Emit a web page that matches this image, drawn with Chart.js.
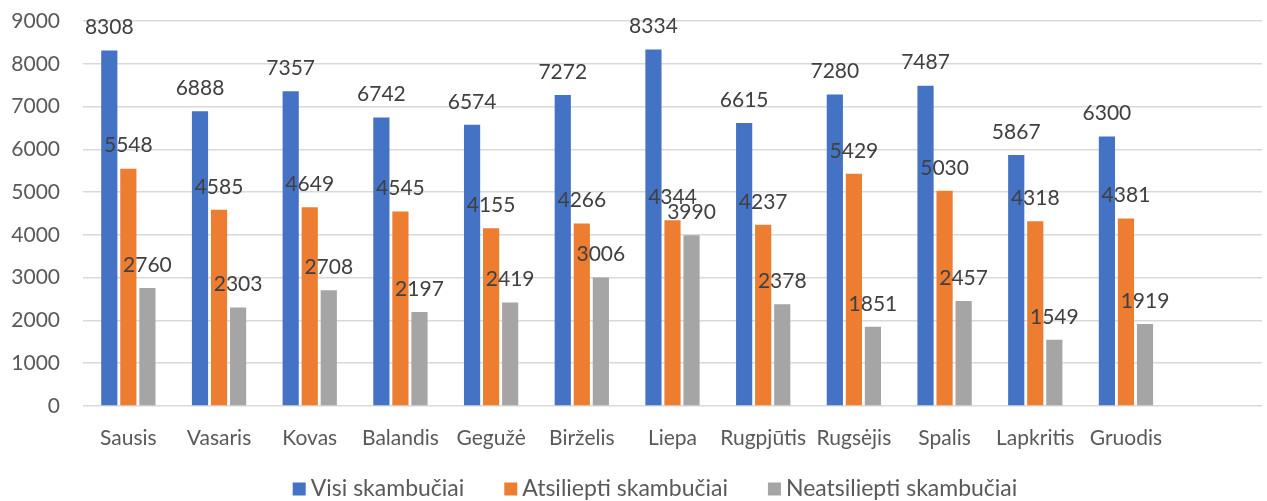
<!DOCTYPE html>
<html>
<head>
<meta charset="utf-8">
<script src="https://cdn.jsdelivr.net/npm/chart.js@4"></script>
<style>
  html, body { margin: 0; padding: 0; background: #fff; }
  canvas { display: block; }
</style>
</head>
<body>
<canvas id="callsChart" width="1267" height="501"></canvas>
<script>
// months (the last empty slot is there in the original chart too)
const months = ['Sausis', 'Vasaris', 'Kovas', 'Balandis', 'Gegužė', 'Birželis', 'Liepa',
   'Rugpjūtis', 'Rugsėjis', 'Spalis', 'Lapkritis', 'Gruodis', ''];

const allCalls = [8308, 6888, 7357, 6742, 6574, 7272, 8334, 6615, 7280, 7487, 5867, 6300];
const answered = [5548, 4585, 4649, 4545, 4155, 4266, 4344, 4237, 5429, 5030, 4318, 4381];
const missed = [2760, 2303, 2708, 2197, 2419, 3006, 3990, 2378, 1851, 2457, 1549, 1919];

const yTicks = [0, 1000, 2000, 3000, 4000, 5000, 6000, 7000, 8000, 9000];

const fontName = 'Lato, "Open Sans", sans-serif';
const fontSize = 21;
const textColor = '#595959';

// value labels above each bar
const valueLabels = {
   id: 'valueLabels',
   afterDatasetsDraw(chart) {
      const ctx = chart.ctx;
      ctx.save();
      ctx.font = fontSize + 'px ' + fontName;
      ctx.fillStyle = '#404040';
      ctx.textAlign = 'center';
      ctx.textBaseline = 'middle';
      chart.data.datasets.forEach((ds, i) => {
         chart.getDatasetMeta(i).data.forEach((bar, j) => {
            if (ds.data[j] == null) return;
            ctx.fillText(ds.data[j], bar.x, bar.y - 23);
         });
      });
      ctx.restore();
   }
};

// legend drawn by hand so the spacing can match the original
const bottomLegend = {
   id: 'bottomLegend',
   afterDraw(chart) {
      const ctx = chart.ctx;
      const box = 13, gapText = 5, gapItem = 40;
      ctx.save();
      ctx.font = '23px ' + fontName;
      ctx.textBaseline = 'middle';
      ctx.textAlign = 'left';
      const items = chart.data.datasets.map(ds => ({
         text: ds.label,
         color: ds.backgroundColor,
         w: box + gapText + ctx.measureText(ds.label).width
      }));
      const total = items.reduce((s, it) => s + it.w, 0) + gapItem * (items.length - 1);
      let x = 655 - total / 2;
      const y = 489;
      items.forEach(it => {
         ctx.fillStyle = it.color;
         ctx.fillRect(x, y - box / 2, box, box);
         ctx.fillStyle = textColor;
         ctx.fillText(it.text, x + box + gapText, y);
         x += it.w + gapItem;
      });
      ctx.restore();
   }
};

const ctx = document.getElementById('callsChart').getContext('2d');
const callsChart = new Chart(ctx, {
   type: 'bar',
   data: {
      labels: months,
      datasets: [
         { label: 'Visi skambučiai', data: allCalls, backgroundColor: '#4472C4' },
         { label: 'Atsiliepti skambučiai', data: answered, backgroundColor: '#ED7D31' },
         { label: 'Neatsiliepti skambučiai', data: missed, backgroundColor: '#A5A5A5' }
      ]
   },
   options: {
      responsive: false,
      animation: false,
      layout: { padding: { top: 21, right: 5, left: 0, bottom: 0 } },
      datasets: {
         bar: { categoryPercentage: 0.63, barPercentage: 0.85 }
      },
      scales: {
         x: {
            grid: { display: false },
            border: { display: false },
            ticks: { color: textColor, font: { family: fontName, size: fontSize }, padding: 12, maxRotation: 0, autoSkip: false },
            afterFit: (scale) => { scale.height = 95; }
         },
         y: {
            min: 0,
            max: 9000,
            afterBuildTicks: (scale) => { scale.ticks = yTicks.map(v => ({ value: v })); },
            // invisible tick marks give the gap between labels and plot
            grid: { color: '#d9d9d9', lineWidth: 1.5, drawTicks: true, tickLength: 23, tickColor: 'rgba(0,0,0,0)' },
            border: { display: false },
            ticks: {
               color: textColor,
               font: { family: fontName, size: fontSize },
               padding: 0,
               callback: (v) => String(v)
            },
            afterFit: (scale) => { scale.width = 83; }
         }
      },
      plugins: {
         legend: { display: false },
         tooltip: { enabled: false }
      }
   },
   plugins: [valueLabels, bottomLegend]
});
</script>
</body>
</html>
